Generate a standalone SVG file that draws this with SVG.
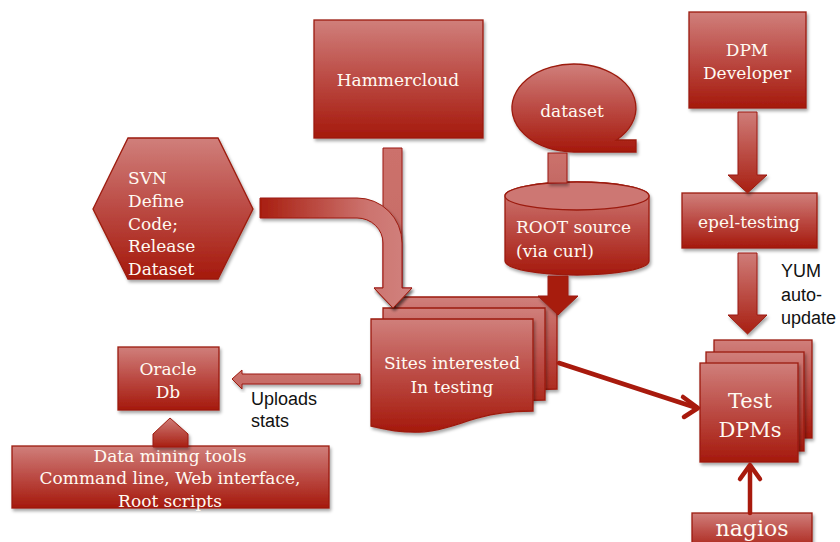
<svg xmlns="http://www.w3.org/2000/svg" width="840" height="542" viewBox="0 0 840 542">
<defs>
<linearGradient id="gNode" x1="0" y1="0" x2="0" y2="1">
<stop offset="0" stop-color="#d07f7b"/>
<stop offset="0.5" stop-color="#bb4a43"/>
<stop offset="1" stop-color="#a5190c"/>
</linearGradient>
<linearGradient id="gArrowV" x1="0" y1="0" x2="0" y2="1">
<stop offset="0" stop-color="#cf7c78"/>
<stop offset="1" stop-color="#a81f12"/>
</linearGradient>
<linearGradient id="gLight" x1="0" y1="0" x2="0" y2="1">
<stop offset="0" stop-color="#cc716c"/>
<stop offset="1" stop-color="#c46a64"/>
</linearGradient>
<linearGradient id="gBend" gradientUnits="userSpaceOnUse" x1="260" y1="0" x2="402" y2="0">
<stop offset="0" stop-color="#a81e10"/>
<stop offset="0.75" stop-color="#cc736e"/>
<stop offset="1" stop-color="#d07f7b"/>
</linearGradient>
<filter id="sh" x="-10%" y="-10%" width="125%" height="130%">
<feDropShadow dx="1.5" dy="2.5" stdDeviation="1.8" flood-color="#000" flood-opacity="0.35"/>
</filter>
<style>
.n{fill:url(#gNode);stroke:#9c1a0e;stroke-width:1.3;filter:url(#sh)}
.a{stroke:#9c1a0e;stroke-width:1;filter:url(#sh)}
.t{font-family:"DejaVu Serif","Liberation Serif",serif;font-size:17px;fill:#fffaf2;text-anchor:middle}
.tl{text-anchor:start}
.s{font-family:"Liberation Sans",Arial,sans-serif;font-size:18px;fill:#111}
.ln{stroke:#a81a0d;stroke-width:4.5;fill:none;stroke-linecap:round;stroke-linejoin:round}
</style>
</defs>

<g id="hammercloud">
<rect class="n" x="314" y="20" width="169" height="118"/>
<text class="t" x="398" y="86">Hammercloud</text>
</g>

<g id="svn">
<path class="n" d="M93,209 L128,138 H218 L253,209 L218,279 H128 Z"/>
<text class="t tl" x="128" y="184">SVN</text>
<text class="t tl" x="128" y="207">Define</text>
<text class="t tl" x="128" y="230">Code;</text>
<text class="t tl" x="128" y="252">Release</text>
<text class="t tl" x="128" y="275">Dataset</text>
</g>

<g id="dataset">
<path class="n" d="M574,152 H636 V140 H616.5 A62,44 0 1 0 574,152 Z"/>
<text class="t" x="572" y="117">dataset</text>
</g>

<g id="root-source">
<path class="n" d="M505,196 V261 A72,14 0 0 0 649,261 V196 A72,14 0 0 0 505,196 Z"/>
<ellipse cx="577" cy="196" rx="72" ry="14" fill="#cd7773" stroke="#9c1a0e" stroke-width="1.3"/>
<text class="t tl" x="516" y="233">ROOT source</text>
<text class="t tl" x="516" y="257">(via curl)</text>
</g>

<g id="sites">
<path class="n" d="M395,297 H557 V389 C476,389 476,424 395,404 Z"/>
<path class="n" d="M383,308 H545 V400 C464,400 464,435 383,415 Z"/>
<path class="n" d="M371,319 H533 V411 C452,411 452,446 371,426 Z"/>
<text class="t" x="452" y="369">Sites interested</text>
<text class="t" x="452" y="393">In testing</text>
</g>

<g id="dpm-developer">
<rect class="n" x="689" y="12" width="117" height="96"/>
<text class="t" x="747" y="56">DPM</text>
<text class="t" x="747" y="79">Developer</text>
</g>

<g id="epel-testing">
<rect class="n" x="682" y="193" width="135" height="55"/>
<text class="t" x="749" y="228">epel-testing</text>
</g>

<g id="yum-label">
<text class="s" x="781" y="277">YUM</text>
<text class="s" x="781" y="301">auto-</text>
<text class="s" x="781" y="324">update</text>
</g>

<g id="test-dpms">
<rect class="n" x="714" y="340" width="98" height="98"/>
<rect class="n" x="706" y="352" width="98" height="99"/>
<rect class="n" x="700" y="363" width="98" height="99"/>
<text class="t" x="750" y="408" style="font-size:21px">Test</text>
<text class="t" x="750" y="437" style="font-size:21px">DPMs</text>
</g>

<g id="nagios">
<rect class="n" x="692" y="513" width="120" height="40"/>
<text class="t" x="752" y="536" style="font-size:22px">nagios</text>
</g>

<g id="oracle">
<rect class="n" x="118" y="347" width="101" height="63"/>
<text class="t" x="168" y="375">Oracle</text>
<text class="t" x="168" y="398">Db</text>
</g>

<g id="uploads-label">
<text class="s" x="251" y="405">Uploads</text>
<text class="s" x="251" y="427">stats</text>
</g>

<g id="data-mining">
<rect class="n" x="12" y="446" width="317" height="62"/>
<text class="t" x="170" y="462">Data mining tools</text>
<text class="t" x="170" y="484">Command line, Web interface,</text>
<text class="t" x="170" y="507">Root scripts</text>
</g>

<g id="connectors">
<!-- SVN bent arrow + Hammercloud arrow -->
<path class="a" fill="url(#gLight)" d="M383,148 H402 V288 H412 L393,308 L374,288 H383 Z"/>
<path class="a" fill="url(#gBend)" d="M260,198 H357 A45,45 0 0 1 402,243 V288 H412 L393,308 L374,288 H383 V243 A26,25 0 0 0 357,218 H260 Z"/>
<!-- dataset to ROOT -->
<rect class="a" fill="url(#gLight)" x="548" y="153" width="19" height="30"/>
<!-- ROOT to Sites -->
<path class="a" fill="#a71d10" d="M548,276 H568 V296 H578 L558,315 L538,296 H548 Z"/>
<!-- Sites to Test DPMs -->
<path class="ln" d="M559,363 L697,408"/>
<path class="ln" d="M683,397 L698,408 L684,417"/>
<!-- DPM Developer to epel -->
<path class="a" fill="url(#gArrowV)" d="M738,112 H757 V175 H767 L747.5,193 L728,175 H738 Z"/>
<!-- epel to Test DPMs -->
<path class="a" fill="url(#gArrowV)" d="M738,253 H757 V315 H767 L747.5,334 L728,315 H738 Z"/>
<!-- nagios to Test DPMs -->
<path class="ln" d="M750,513 V466"/>
<path class="ln" d="M740,479 L750,465 L760,479"/>
<!-- Uploads stats -->
<path class="a" fill="url(#gLight)" d="M360,374 V384 H242 V389 L232,379 L242,370 V374 Z"/>
<!-- Data mining to Oracle -->
<path class="a" fill="url(#gArrowV)" d="M153,447 V434 L170,418 L188,434 V447 Z"/>
</g>
</svg>
